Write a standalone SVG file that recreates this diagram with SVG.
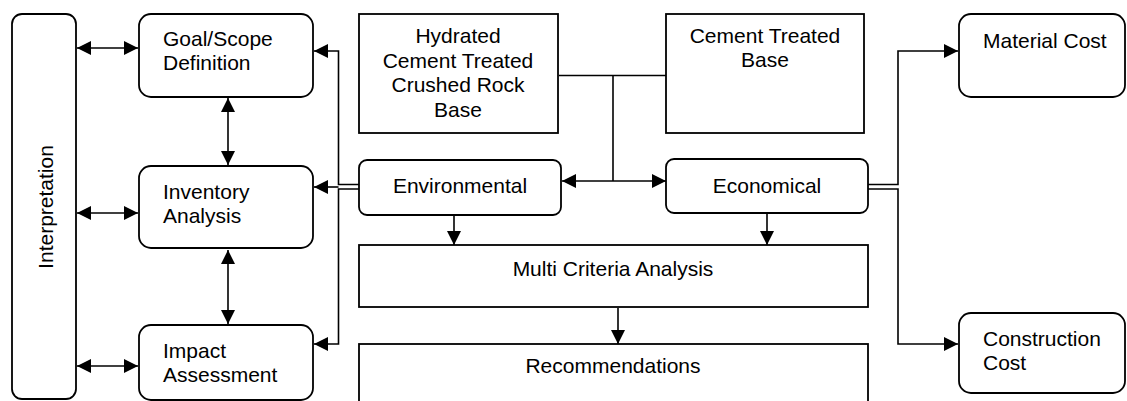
<svg xmlns="http://www.w3.org/2000/svg" width="1127" height="401" viewBox="0 0 1127 401">
<style>
.box{fill:#fff;stroke:#000;stroke-width:1.8}
.t{font-family:"Liberation Sans",Arial,sans-serif;font-size:21px;fill:#000}
.c{text-anchor:middle}
.ln{fill:none;stroke:#000;stroke-width:1.6}
</style>
<defs>
<marker id="ah" markerWidth="14" markerHeight="14" refX="14" refY="7" orient="auto-start-reverse" markerUnits="userSpaceOnUse"><path d="M0,0 L14,7 L0,14 z" fill="#000"/></marker>
</defs>
<rect width="1127" height="401" fill="#fff"/>
<g id="connectors">
<path class="ln" d="M77,48 H138" marker-start="url(#ah)" marker-end="url(#ah)"/>
<path class="ln" d="M77,213 H138" marker-start="url(#ah)" marker-end="url(#ah)"/>
<path class="ln" d="M77,366 H138" marker-start="url(#ah)" marker-end="url(#ah)"/>
<path class="ln" d="M228,98 V165" marker-start="url(#ah)" marker-end="url(#ah)"/>
<path class="ln" d="M228,250 V324" marker-start="url(#ah)" marker-end="url(#ah)"/>
<path class="ln" d="M359,184.5 H338.5 V51 H314" marker-end="url(#ah)"/>
<path class="ln" d="M359,189 H338.5 V344 H314" marker-end="url(#ah)"/>
<path class="ln" d="M338.5,187 H314" marker-end="url(#ah)"/>
<path class="ln" d="M559,75.5 H666"/>
<path class="ln" d="M613,75.5 V181"/>
<path class="ln" d="M562,181 H666" marker-start="url(#ah)" marker-end="url(#ah)"/>
<path class="ln" d="M868,184.5 H898 V51 H958" marker-end="url(#ah)"/>
<path class="ln" d="M868,189 H898 V344 H958" marker-end="url(#ah)"/>
<path class="ln" d="M454,216 V245" marker-end="url(#ah)"/>
<path class="ln" d="M767,214 V245" marker-end="url(#ah)"/>
<path class="ln" d="M618,308 V344" marker-end="url(#ah)"/>
</g>
<g id="interpretation">
<rect class="box" x="12" y="14" width="64" height="385" rx="10"/>
<text class="t c" transform="translate(52.5,207) rotate(-90)">Interpretation</text>
</g>
<g id="goal">
<rect class="box" x="139" y="14" width="174" height="83" rx="12"/>
<text class="t" x="163" y="46">Goal/Scope</text>
<text class="t" x="163" y="70">Definition</text>
</g>
<g id="inventory">
<rect class="box" x="139" y="166" width="174" height="82" rx="12"/>
<text class="t" x="163" y="199">Inventory</text>
<text class="t" x="163" y="223">Analysis</text>
</g>
<g id="impact">
<rect class="box" x="139" y="325" width="174" height="75" rx="12"/>
<text class="t" x="163" y="358">Impact</text>
<text class="t" x="163" y="382">Assessment</text>
</g>
<g id="hydrated">
<rect class="box" x="359" y="14" width="199" height="119"/>
<text class="t c" x="458" y="43">Hydrated</text>
<text class="t c" x="458" y="68">Cement Treated</text>
<text class="t c" x="458" y="92">Crushed Rock</text>
<text class="t c" x="458" y="117">Base</text>
</g>
<g id="ctb">
<rect class="box" x="666" y="14" width="198" height="119"/>
<text class="t c" x="765" y="43">Cement Treated</text>
<text class="t c" x="765" y="67">Base</text>
</g>
<g id="environmental">
<rect class="box" x="359" y="160" width="202" height="55" rx="8"/>
<text class="t c" x="460" y="193">Environmental</text>
</g>
<g id="economical">
<rect class="box" x="666" y="159" width="202" height="54" rx="8"/>
<text class="t c" x="767" y="193">Economical</text>
</g>
<g id="mca">
<rect class="box" x="359" y="245" width="509" height="62"/>
<text class="t c" x="613" y="276">Multi Criteria Analysis</text>
</g>
<g id="recommendations">
<rect class="box" x="359" y="344" width="509" height="70"/>
<text class="t c" x="613" y="373">Recommendations</text>
</g>
<g id="material">
<rect class="box" x="959" y="14" width="166" height="83" rx="12"/>
<text class="t" x="983" y="48">Material Cost</text>
</g>
<g id="construction">
<rect class="box" x="959" y="313" width="166" height="80" rx="12"/>
<text class="t" x="983" y="346">Construction</text>
<text class="t" x="983" y="370">Cost</text>
</g>
</svg>
